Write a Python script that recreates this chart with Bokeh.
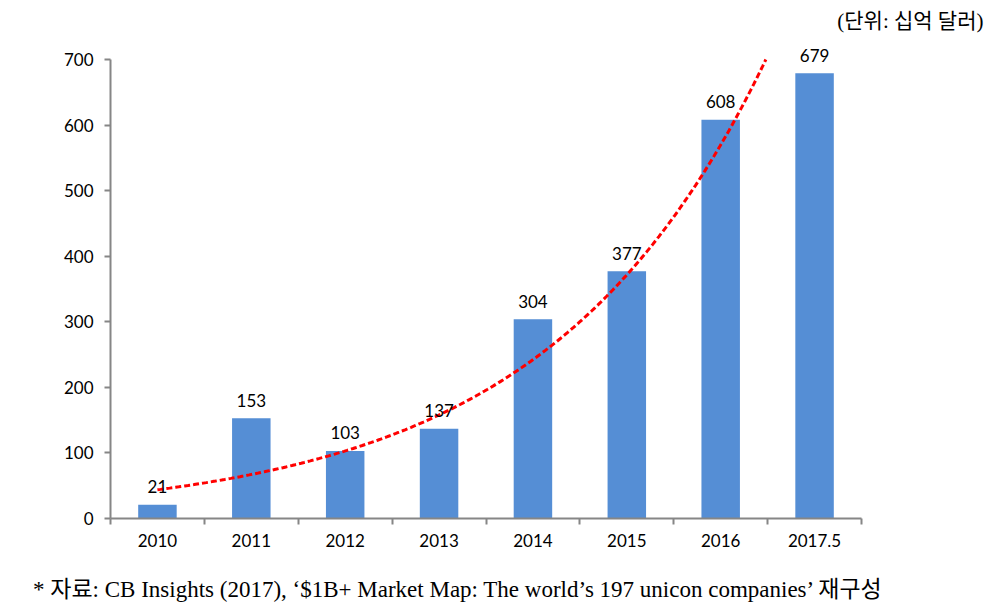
import numpy as np
from bokeh.plotting import figure
from bokeh.layouts import column
from bokeh.models import ColumnDataSource, FixedTicker, Label, Range1d, Div
from bokeh.core.properties import value
from bokeh.embed import file_html
from bokeh.resources import INLINE

categories = ["2010", "2011", "2012", "2013", "2014", "2015", "2016", "2017.5"]
values = [21, 153, 103, 137, 304, 377, 608, 679]
y_ticks = [0, 100, 200, 300, 400, 500, 600, 700]
unit_text = "(단위: 십억 달러)"
source_text = "* 자료: CB Insights (2017), ‘$1B+ Market Map: The world’s 197 unicon companies’ 재구성"

pos = list(range(1, len(categories) + 1))
y_max = y_ticks[-1]

W, H = 990, 566
# frame: left edge at x 110, bottom (value 0) at y 518; 700 at y 59; right axis end at x 861
left, bottom_y, top_y, right_x = 110, 518, 59, 861
px_per_cat = (right_x - left) / len(categories)
px_per_val = (bottom_y - top_y) / y_max
x_end = 0.5 + (W - left) / px_per_cat
y_end = bottom_y / px_per_val

p = figure(width=W, height=H, output_backend="svg", toolbar_location=None,
           x_range=Range1d(0.5, x_end), y_range=Range1d(0, y_end),
           min_border_left=left, min_border_right=0, min_border_top=0,
           min_border_bottom=H - bottom_y)
p.outline_line_color = None
p.xgrid.grid_line_color = None
p.ygrid.grid_line_color = None

src = ColumnDataSource(dict(x=pos, top=values, label=[str(v) for v in values]))
p.vbar(x="x", top="top", width=0.41, bottom=0, source=src, fill_color="#558ED5", line_color=None)

# exponential trendline (least squares fit on log values, as in the source spreadsheet),
# cut where it leaves the value axis (700)
b, a = np.polyfit(pos, np.log(values), 1)
x_stop = min(len(categories), (np.log(y_max) - a) / b)
tx = np.linspace(1, x_stop, 200)
ty = np.exp(a + b * tx)
p.line(tx, ty, line_color="#FF0000", line_width=3, line_dash="6 3")

p.text(x="x", y="top", text="label", source=src, text_align="center", text_baseline="alphabetic",
       y_offset=-18, text_font=value("Lato"), text_font_size="17px", text_color="#000000")

gray = "#868686"
p.xaxis.bounds = (0.5, len(categories) + 0.5)
p.xaxis.ticker = FixedTicker(ticks=pos, minor_ticks=[i + 0.5 for i in range(len(categories) + 1)])
p.xaxis.major_label_overrides = {i: c for i, c in zip(pos, categories)}
p.xaxis.major_tick_line_color = None
p.xaxis.minor_tick_line_color = gray
p.xaxis.minor_tick_line_width = 2
p.xaxis.minor_tick_out = 6
p.xaxis.minor_tick_in = 0
p.xaxis.axis_line_color = gray
p.xaxis.axis_line_width = 2
p.xaxis.major_label_text_font = "Lato"
p.xaxis.major_label_text_font_size = "17px"
p.xaxis.major_label_text_color = "#000000"
p.xaxis.major_label_standoff = 9

p.yaxis.bounds = (0, y_max)
p.yaxis.ticker = FixedTicker(ticks=y_ticks, minor_ticks=[])
p.yaxis.axis_line_color = gray
p.yaxis.axis_line_width = 2
p.yaxis.major_tick_line_color = gray
p.yaxis.major_tick_line_width = 2
p.yaxis.major_tick_out = 6
p.yaxis.major_tick_in = 0
p.yaxis.minor_tick_line_color = None
p.yaxis.major_label_text_font = "Lato"
p.yaxis.major_label_text_font_size = "17px"
p.yaxis.major_label_text_color = "#000000"
p.yaxis.major_label_standoff = 11

serif = "Liberation Serif, 'Noto Sans CJK KR'"
p.add_layout(Label(x=983 - left, y=bottom_y - 20, x_units="screen", y_units="screen", text=unit_text,
                   text_align="right", text_baseline="middle", text_font=serif,
                   text_font_size="21px", text_color="#000000"))

note = Div(text=source_text, width=W, height=36, margin=(0, 0, 0, 33),
           styles={"font-family": serif, "font-size": "23px", "line-height": "48px",
                   "color": "#000000", "white-space": "nowrap"})

layout = column(p, note, spacing=0)
open("out.html", "w").write(file_html(layout, INLINE))
